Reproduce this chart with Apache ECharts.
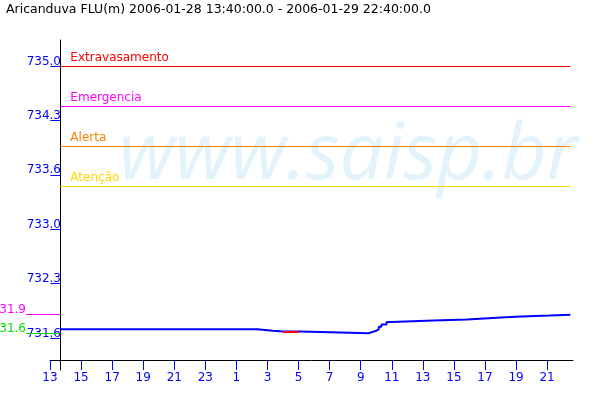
<!DOCTYPE html>
<html>
<head>
<meta charset="utf-8">
<script src="https://cdn.jsdelivr.net/npm/echarts@6/dist/echarts.min.js"></script>
<style>
html,body{margin:0;padding:0;background:#fff;}
#chart{width:600px;height:400px;}
</style>
</head>
<body>
<div id="chart"></div>
<script>
// ---- data ----
const titleText = 'Aricanduva FLU(m) 2006-01-28 13:40:00.0 - 2006-01-29 22:40:00.0';
const periodStart = '2006-01-28 13:40';
const periodEnd = '2006-01-29 22:40';
const axisStart = '2006-01-28 13:00';

// water level (m), step changes
const levelTimes = [
  '2006-01-28 13:40', '2006-01-29 02:20', '2006-01-29 03:20', '2006-01-29 04:00',
  '2006-01-29 05:00', '2006-01-29 05:10', '2006-01-29 09:30', '2006-01-29 09:50',
  '2006-01-29 10:00', '2006-01-29 10:10', '2006-01-29 10:20', '2006-01-29 10:40',
  '2006-01-29 11:00', '2006-01-29 13:40', '2006-01-29 15:50', '2006-01-29 16:40',
  '2006-01-29 18:20', '2006-01-29 19:20', '2006-01-29 21:10', '2006-01-29 22:30'
];
const levelValues = [
  731.71, 731.69, 731.68, 731.68,
  731.68, 731.66, 731.68, 731.69,
  731.71, 731.74, 731.77, 731.80,
  731.82, 731.83, 731.84, 731.86,
  731.87, 731.88, 731.89, 731.89
];
// flagged segment (drawn red)
const flagTimes = ['2006-01-29 04:00', '2006-01-29 05:00'];
const flagValues = [731.675, 731.675];

// alert levels
const alertNames = ['Extravasamento', 'Emergencia', 'Alerta', 'Atenção'];
const alertValues = [735.0, 734.5, 734.0, 733.5];
const alertColors = ['#ff0000', '#ff00ff', '#ff8000', '#ffd700'];

// left-side reference marks
const refLabels = ['31.9', '31.6'];
const refValues = [731.9, 731.66];
const refColors = ['#ff00ff', '#00dd00'];

// y tick values and labels
const yTickValues = [731.6, 732.28, 732.96, 733.64, 734.32, 735.0];
const yTickLabels = ['731.6', '732.3', '733.0', '733.6', '734.3', '735.0'];

// x ticks (hours)
const xTickTimes = [
  '2006-01-28 13:00', '2006-01-28 15:00', '2006-01-28 17:00', '2006-01-28 19:00',
  '2006-01-28 21:00', '2006-01-28 23:00', '2006-01-29 01:00', '2006-01-29 03:00',
  '2006-01-29 05:00', '2006-01-29 07:00', '2006-01-29 09:00', '2006-01-29 11:00',
  '2006-01-29 13:00', '2006-01-29 15:00', '2006-01-29 17:00', '2006-01-29 19:00',
  '2006-01-29 21:00'
];
const xTickLabels = ['13','15','17','19','21','23','1','3','5','7','9','11','13','15','17','19','21'];

const watermarkText = 'www.saisp.br';

// ---- helpers ----
function toHours(s) {
  const parts = s.split(' ');
  const ymd = parts[0].split('-').map(Number);
  const hm = parts[1].split(':').map(Number);
  const t = Date.UTC(ymd[0], ymd[1] - 1, ymd[2], hm[0], hm[1]);
  const p = periodStart.split(' ');
  const pymd = p[0].split('-').map(Number);
  const phm = p[1].split(':').map(Number);
  const t0 = Date.UTC(pymd[0], pymd[1] - 1, pymd[2], phm[0], phm[1]);
  return (t - t0) / 3600000;
}

const xTickPos = xTickTimes.map(toHours);
const levelData = levelTimes.map((t, i) => [toHours(t), levelValues[i]]);
const flagData = flagTimes.map((t, i) => [toHours(t), flagValues[i]]);
const lastX = toHours(levelTimes[levelTimes.length - 1]);

const yMin = 731.2, yMax = 735.325;
const FONT = 'DejaVu Sans';

const chart = echarts.init(document.getElementById('chart'), null, {renderer: 'canvas'});

const option = {
  animation: false,
  backgroundColor: '#fff',
  textStyle: {fontFamily: FONT},
  graphic: [
    {
      type: 'text', left: 6, top: 3, z: 10, silent: true,
      style: {text: titleText, fill: '#000', font: '12.5px "DejaVu Sans"'}
    },
    {
      type: 'text', left: 119, top: 118, z: 0, silent: true,
      style: {text: watermarkText, fill: '#e2f3fc', font: 'italic 78px "Open Sans"'}
    }
  ],
  grid: [
    {left: 50, right: 27, top: 40, bottom: 30},
    {left: 26, right: 540, top: 40, bottom: 30}
  ],
  xAxis: [
    {
      type: 'value', gridIndex: 0,
      min: toHours(axisStart), max: toHours(periodEnd),
      offset: -10,
      axisLine: {onZero: false, lineStyle: {color: '#000', width: 1}},
      axisTick: {show: true, length: 10, lineStyle: {color: '#0000ff'}, customValues: xTickPos},
      axisLabel: {
        show: true, customValues: xTickPos, color: '#0000ff', fontFamily: FONT, fontSize: 12, margin: 12,
        formatter: function (v) {
          let best = 0;
          for (let i = 1; i < xTickPos.length; i++) {
            if (Math.abs(xTickPos[i] - v) < Math.abs(xTickPos[best] - v)) best = i;
          }
          return xTickLabels[best];
        }
      },
      splitLine: {show: false}
    },
    {
      type: 'value', gridIndex: 1, min: 0, max: 1, show: false
    }
  ],
  yAxis: [
    {
      type: 'value', gridIndex: 0, min: yMin, max: yMax,
      axisLine: {show: true, onZero: true, onZeroAxisIndex: 0, lineStyle: {color: '#000', width: 1}},
      axisTick: {show: true, length: 10, lineStyle: {color: '#0000ff'}, customValues: yTickValues},
      axisLabel: {
        show: true, customValues: yTickValues, color: '#0000ff', fontFamily: FONT, fontSize: 12,
        margin: -11, verticalAlign: 'bottom', lineHeight: 9,
        formatter: function (v) {
          let best = 0;
          for (let i = 1; i < yTickValues.length; i++) {
            if (Math.abs(yTickValues[i] - v) < Math.abs(yTickValues[best] - v)) best = i;
          }
          return yTickLabels[best];
        }
      },
      splitLine: {show: false}
    },
    {
      type: 'value', gridIndex: 1, min: yMin, max: yMax, show: false
    }
  ],
  series: [
    {
      type: 'line', xAxisIndex: 0, yAxisIndex: 0, z: 3,
      data: levelData, step: 'end', symbol: 'none', silent: true,
      lineStyle: {color: '#0000ff', width: 2},
      markLine: {
        silent: true, symbol: 'none', animation: false,
        data: alertValues.map((v, i) => [
          {coord: [0, v], name: alertNames[i],
           lineStyle: {color: alertColors[i], width: 1, type: 'solid'},
           label: {show: true, position: 'insideStartTop', formatter: alertNames[i], color: alertColors[i],
                   fontFamily: FONT, fontSize: 12, distance: [10, 2]}},
          {coord: [lastX, v]}
        ])
      }
    },
    {
      type: 'line', xAxisIndex: 0, yAxisIndex: 0, z: 4,
      data: flagData, symbol: 'none', silent: true,
      lineStyle: {color: '#ff0000', width: 2}
    },
    {
      type: 'line', xAxisIndex: 1, yAxisIndex: 1, z: 3,
      data: [], symbol: 'none', silent: true,
      markLine: {
        silent: true, symbol: 'none', animation: false,
        data: refValues.map((v, i) => ({
          yAxis: v, name: refLabels[i],
          lineStyle: {color: refColors[i], width: 1, type: 'solid'},
          label: {show: true, position: 'start', formatter: refLabels[i], color: refColors[i],
                  fontFamily: FONT, fontSize: 12, distance: 0, verticalAlign: 'bottom', align: 'right', lineHeight: 9}
        }))
      }
    }
  ]
};
chart.setOption(option);
</script>
</body>
</html>
